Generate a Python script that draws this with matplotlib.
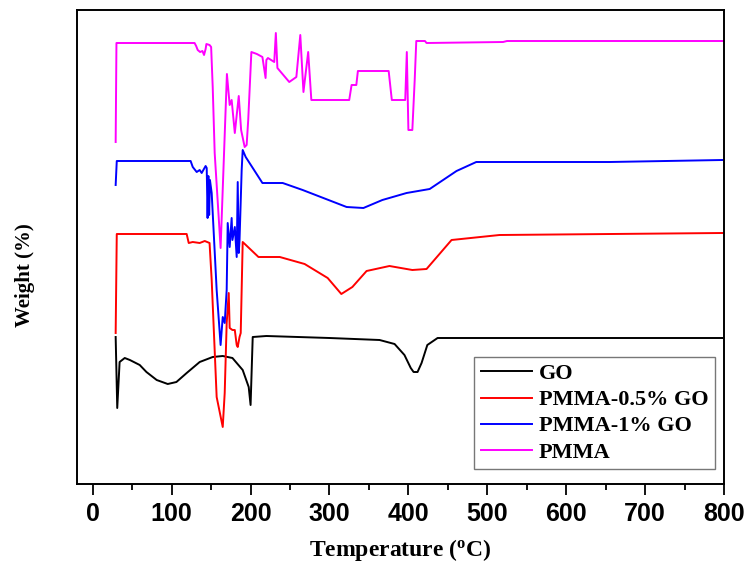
"""
TGA-style weight curves for PMMA / GO composites, offset vertically.
Output: out.png
"""

import matplotlib
matplotlib.use("Agg")
import matplotlib.pyplot as plt
from matplotlib.ticker import MultipleLocator

# ── Data (temperature in degC, weight in offset units) ──
GO_T = [29, 31, 34, 40.5, 47, 59.5, 68, 81, 95, 106, 119, 135.5, 152, 164.7,
        177, 190, 197.6, 200, 202.7, 220, 260, 300, 363.5, 382.5, 395, 403,
        406.6, 411.6, 416.7, 424, 437, 798]
GO_W = [154, 83, 129, 133, 131, 126, 119, 111, 107, 109, 118, 129, 134, 135,
        133, 121, 104, 86, 154, 155, 154, 153, 151, 147, 136, 123,
        119, 119, 128, 146, 153, 153]

P05_T = [29, 30.4, 119, 121.6, 126.7, 135.5, 141.9, 148, 150.7, 157, 164.7,
         167.2, 169.7, 172.3, 173.5, 177, 180, 182.4, 183.7, 186, 187.5, 190,
         210, 237, 268.5, 297.7, 315, 329, 347, 376, 405, 423, 454.7, 515.5, 798]
P05_W = [158, 257, 257, 248, 249, 248, 250, 248, 211, 94, 64,
         98, 168, 198, 163, 161, 161, 146, 144, 154, 158, 249,
         234, 234, 227, 213, 197, 204, 220, 225, 221, 222, 251, 256, 258]

P1_T = [29, 30.4, 124, 126.7, 131.7, 135.5, 138, 143, 144.4, 145.5, 146.5,
        147.5, 148.5, 150.7, 157, 162, 164.7, 167.2, 169.7, 171, 173.5, 176,
        177, 180, 182.4, 183.7, 185, 186, 188.7, 190, 193.8, 215, 240.7, 266,
        321.7, 343, 367, 397.7, 427, 461, 486, 506.6, 655, 798]
P1_W = [306, 330, 330, 324, 319, 321, 318, 325, 323, 273, 315,
        276, 311, 298, 201, 146, 174, 168, 201, 268, 244, 273,
        251, 264, 234, 309, 238, 251, 321, 341, 334, 308, 308, 301,
        284, 283, 291, 298, 302, 320, 329, 329, 329, 331]

PMMA_T = [29, 30, 129, 131, 133, 136, 139, 141, 143, 144, 148, 150, 152,
          154.5, 162, 170, 173.5, 176, 180, 185, 188, 192.5, 195, 197, 201,
          208, 215, 219, 220, 222, 230, 232, 234, 249, 258, 263, 267, 273,
          277, 325, 328, 334, 336, 375, 379, 396, 398, 400, 405, 408, 410,
          421, 423, 520, 525, 800]
PMMA_W = [349, 448, 448, 445, 441, 439, 440, 436, 442, 447, 446, 444, 404,
          338, 243, 417, 386, 391, 358, 395, 361, 344, 346, 371, 439,
          437, 434, 413, 431, 433, 429, 458, 423, 409, 414, 456, 399, 439,
          391, 391, 406, 406, 420, 420, 391, 391, 439, 361, 361, 411, 450,
          450, 448, 449, 450, 450]

SERIES = [
    ("GO", GO_T, GO_W, "#000000"),
    ("PMMA-0.5% GO", P05_T, P05_W, "#ff0000"),
    ("PMMA-1% GO", P1_T, P1_W, "#0000ff"),
    ("PMMA", PMMA_T, PMMA_W, "#ff00ff"),
]

XTICKS = list(range(0, 801, 100))

# ── Fonts ────────────────────────────────────────────────────────
plt.rcParams["mathtext.fontset"] = "custom"
plt.rcParams["mathtext.rm"] = "Liberation Serif:bold"
plt.rcParams["mathtext.it"] = "Liberation Serif:bold"
plt.rcParams["mathtext.bf"] = "Liberation Serif:bold"
SERIF = ["Liberation Serif", "DejaVu Serif"]
NARROW = ["Liberation Sans Narrow", "Liberation Sans", "DejaVu Sans"]

fig = plt.figure(figsize=(7.44, 5.65), dpi=100)
# frame spans x 77..724 px, y 10..484 px
ax = fig.add_axes([77 / 744, 1 - 484 / 565, 647 / 744, 474 / 565])

for label, t, w, c in SERIES:
    ax.plot(t, w, color=c, lw=1.4, label=label)

ax.set_xlim(-20, 800)
ax.set_ylim(7, 481)
ax.set_xticks(XTICKS)
ax.xaxis.set_minor_locator(MultipleLocator(50))
ax.set_yticks([])
ax.tick_params(axis="x", which="major", direction="out", length=8, width=1.3,
               pad=5)
ax.tick_params(axis="x", which="minor", direction="out", length=4, width=1.3)
for lab in ax.get_xticklabels():
    lab.set_family(NARROW)
    lab.set_fontweight("bold")
    lab.set_fontsize(18)
for sp in ax.spines.values():
    sp.set_linewidth(1.4)

ax.set_xlabel(r"Temperature ($^{\mathrm{o}}$C)", family=SERIF,
              fontweight="bold", fontsize=17, labelpad=8)
ax.set_ylabel("Weight (%)", family=SERIF, fontweight="bold", fontsize=15)
ax.yaxis.set_label_coords(-0.065, 0.44)

leg = ax.legend(loc="upper right", bbox_to_anchor=(0.986, 0.268),
                borderaxespad=0, fancybox=False, edgecolor="#555555",
                prop={"family": SERIF, "weight": "bold", "size": 16},
                handlelength=2.3, labelspacing=0.25, borderpad=0.3,
                handletextpad=0.3)
leg.get_frame().set_linewidth(1.0)

fig.savefig("out.png", dpi=100)
plt.close(fig)
